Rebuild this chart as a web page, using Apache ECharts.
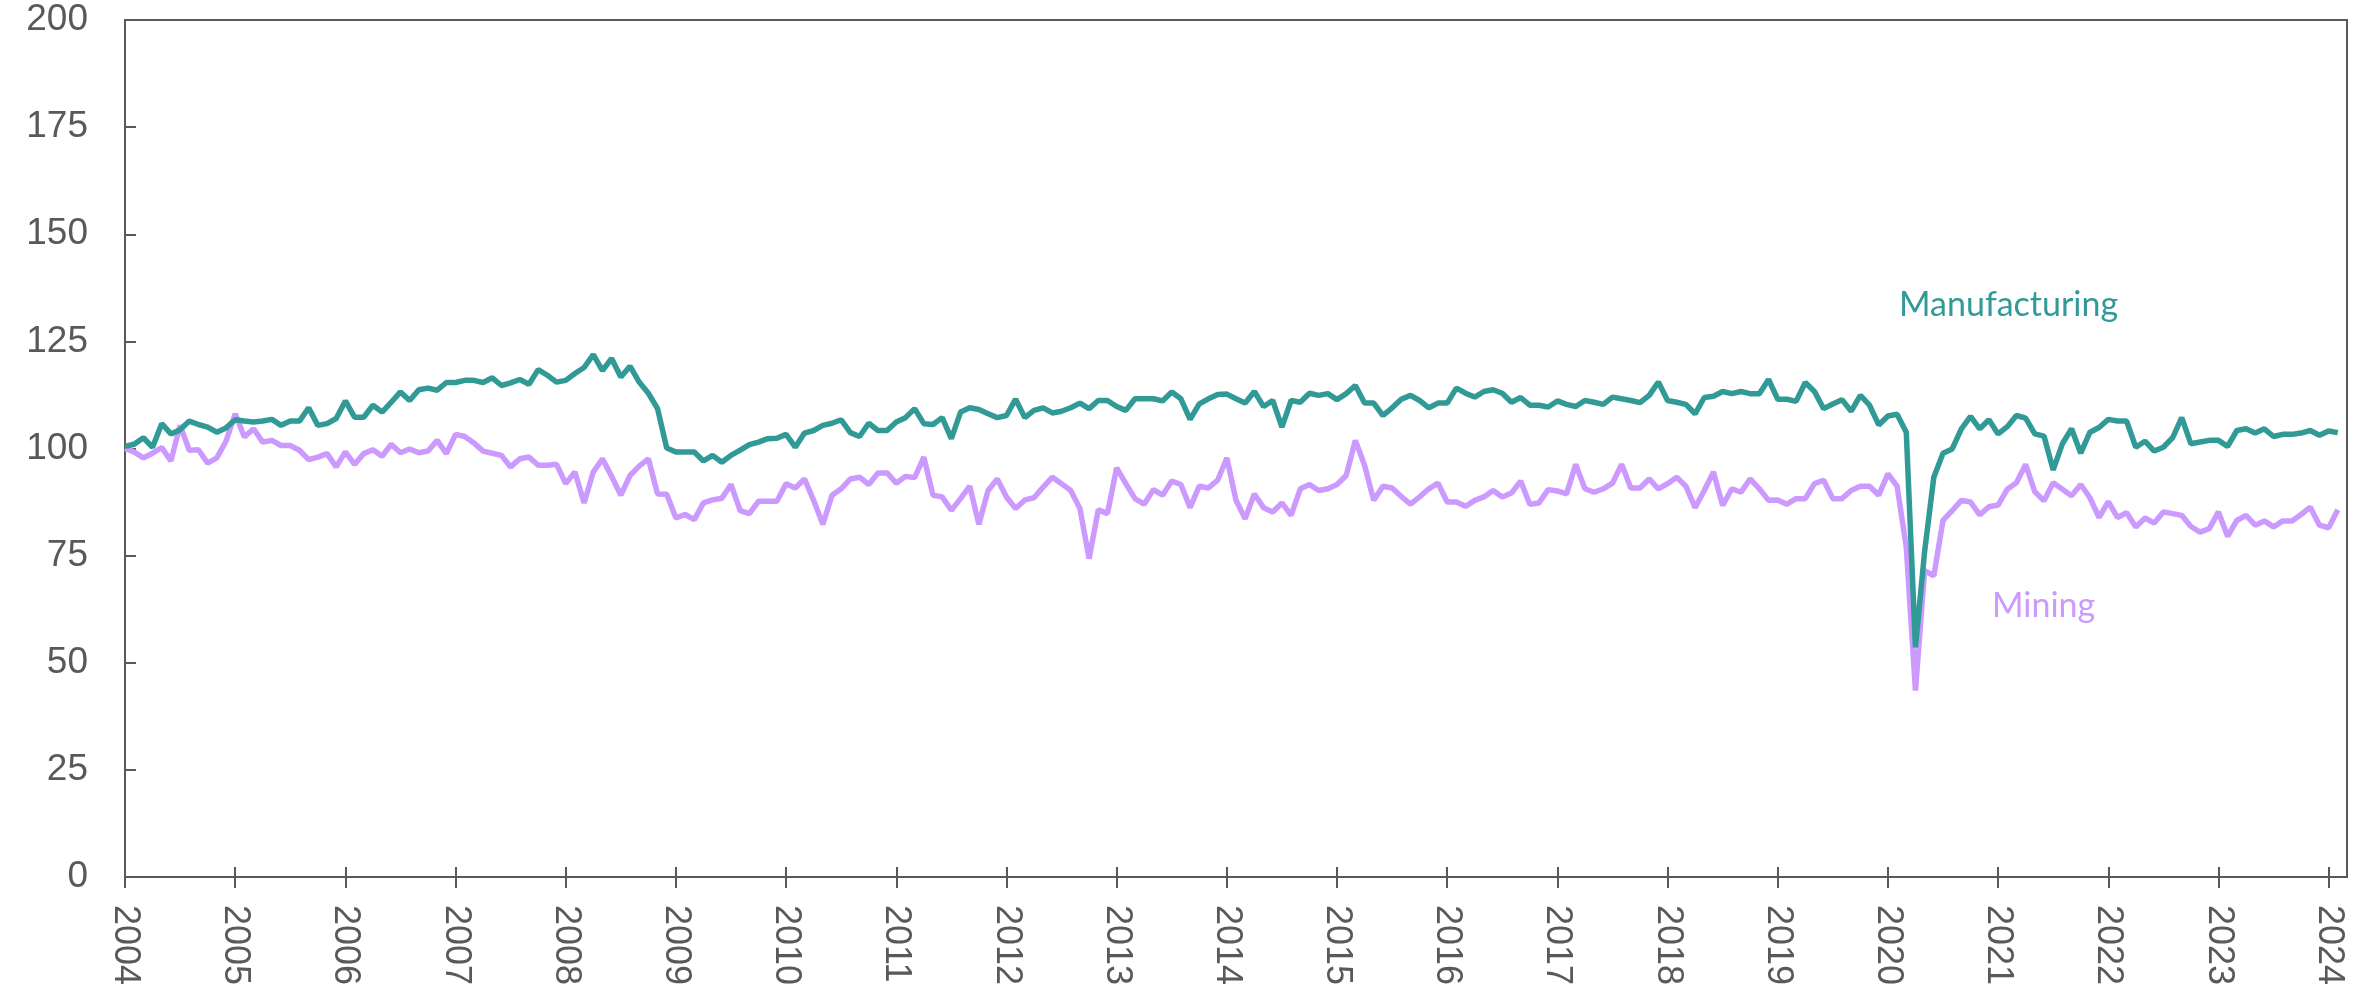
<!DOCTYPE html>
<html>
<head>
<meta charset="utf-8">
<title>Manufacturing and Mining</title>
<script src="https://cdn.jsdelivr.net/npm/echarts@6/dist/echarts.min.js"></script>
<style>
body { margin: 0; background: #fff; }
#chart { width: 2376px; height: 989px; }
</style>
</head>
<body>
<div id="chart"></div>
<script>
// years shown on the x axis, data is monthly from 2004-01
var years = ['2004','2005','2006','2007','2008','2009','2010','2011','2012','2013','2014',
  '2015','2016','2017','2018','2019','2020','2021','2022','2023','2024']
var lastMonth = 3 // axis runs to 2024-03

var manufacturing = [
  100.5, 101, 102.5, 100.3, 105.8, 103.4, 104.4, 106.4, 105.6, 105,
  103.8, 104.8, 106.7, 106.4, 106.2, 106.4, 106.8, 105.4, 106.4, 106.4,
  109.5, 105.4, 105.8, 107, 111.1, 107.3, 107.3, 110.1, 108.5, 110.8,
  113.2, 111.2, 113.7, 114.1, 113.6, 115.4, 115.4, 115.9, 115.9, 115.4,
  116.5, 114.7, 115.3, 116.1, 115, 118.4, 117.1, 115.5, 115.9, 117.5,
  118.9, 121.9, 118.2, 121, 116.7, 119.2, 115.5, 112.9, 109.3, 100.1,
  99.2, 99.2, 99.2, 97.1, 98.4, 96.8, 98.4, 99.6, 100.9, 101.5,
  102.3, 102.4, 103.3, 100.3, 103.6, 104.2, 105.4, 105.9, 106.7, 103.7,
  102.8, 105.9, 104.2, 104.2, 106.2, 107.2, 109.3, 105.8, 105.6, 107.2,
  102.3, 108.5, 109.5, 109.1, 108.1, 107.2, 107.7, 111.5, 107.2, 108.9,
  109.5, 108.3, 108.7, 109.5, 110.6, 109.3, 111.2, 111.2, 109.8, 108.9,
  111.6, 111.6, 111.6, 111.1, 113.2, 111.6, 106.8, 110.4, 111.6, 112.6,
  112.7, 111.6, 110.6, 113.3, 109.8, 111.2, 105, 111.2, 110.8, 112.9,
  112.4, 112.8, 111.4, 112.8, 114.7, 110.6, 110.6, 107.7, 109.5, 111.5,
  112.4, 111.2, 109.5, 110.6, 110.6, 114.1, 112.9, 112, 113.3, 113.7,
  112.9, 110.8, 111.9, 110.1, 110.1, 109.7, 111.1, 110.3, 109.8, 111.2,
  110.8, 110.3, 112, 111.6, 111.2, 110.7, 112.4, 115.5, 111.2, 110.8,
  110.3, 108.1, 111.9, 112.2, 113.3, 112.8, 113.3, 112.8, 112.8, 116.1,
  111.5, 111.5, 111, 115.4, 113.3, 109.3, 110.4, 111.4, 108.7, 112.4,
  110.1, 105.5, 107.6, 108, 103.8, 53.6, 76, 93.3, 98.9, 99.9,
  104.6, 107.5, 104.6, 106.7, 103.4, 105.1, 107.7, 107.1, 103.4, 102.9,
  95, 101.1, 104.6, 98.9, 103.8, 104.9, 106.8, 106.4, 106.4, 100.3,
  101.7, 99.4, 100.3, 102.5, 107.2, 101.1, 101.5, 101.9, 101.9, 100.5,
  104.2, 104.6, 103.6, 104.6, 102.8, 103.3, 103.3, 103.6, 104.2, 103.1,
  104.1, 103.7
]

var mining = [
  100, 99.2, 97.8, 98.9, 100.2, 97.1, 105.4, 99.6, 99.7, 96.6,
  97.8, 101.7, 108.1, 102.7, 104.6, 101.5, 101.9, 100.7, 100.7, 99.6,
  97.4, 98, 98.8, 95.7, 99.2, 96.3, 98.8, 99.7, 98.2, 101,
  99, 99.9, 99, 99.4, 101.9, 98.8, 103.3, 102.8, 101.3, 99.4,
  98.9, 98.4, 95.7, 97.6, 98, 96.1, 96.1, 96.3, 91.8, 94.5,
  87.3, 94.5, 97.6, 93.5, 89.1, 93.7, 95.9, 97.6, 89.4, 89.3,
  83.8, 84.6, 83.4, 87.3, 88, 88.4, 91.6, 85.5, 84.8, 87.7,
  87.7, 87.7, 91.8, 90.8, 92.9, 87.9, 82.3, 89.1, 90.6, 92.9,
  93.3, 91.6, 94.3, 94.3, 91.9, 93.5, 93.2, 98, 89.1, 88.7,
  85.6, 88.3, 91.2, 82.3, 90.2, 92.9, 88.7, 86, 88, 88.5,
  91, 93.3, 91.8, 90.2, 86, 74.3, 85.7, 84.8, 95.5, 91.8,
  88.3, 87, 90.4, 89.1, 92.4, 91.6, 86.2, 91.2, 90.8, 92.6,
  97.8, 87.9, 83.6, 89.4, 86.2, 85.2, 87.3, 84.4, 90.6, 91.6,
  90.2, 90.6, 91.6, 93.7, 101.9, 96.1, 87.9, 91.2, 90.8, 88.8,
  87, 88.7, 90.6, 91.9, 87.5, 87.5, 86.5, 87.9, 88.7, 90.2,
  88.7, 89.6, 92.4, 87, 87.3, 90.4, 90.1, 89.4, 96.3, 90.6,
  89.8, 90.6, 91.9, 96.3, 90.8, 90.8, 92.9, 90.6, 91.8, 93.3,
  91.2, 86.2, 90.2, 94.5, 86.7, 90.6, 89.8, 92.9, 90.6, 87.9,
  88, 87, 88.3, 88.3, 91.8, 92.6, 88.3, 88.3, 90.2, 91.2,
  91.2, 89.1, 94.1, 91.2, 77, 43.5, 71.5, 70.3, 83.2, 85.5,
  87.9, 87.5, 84.5, 86.4, 86.8, 90.5, 92, 96.3, 89.9, 87.8,
  92, 90.5, 89, 91.6, 88.5, 83.9, 87.6, 83.9, 85, 81.7,
  83.8, 82.6, 85.2, 84.8, 84.4, 81.8, 80.5, 81.3, 85.2, 79.5,
  83.2, 84.4, 82.1, 83.1, 81.7, 83.1, 83.1, 84.6, 86.3, 82.1,
  81.5, 85.7
]

var yTicks = [0, 25, 50, 75, 100, 125, 150, 175, 200]

// month categories built from the years list
var months = []
years.forEach(function (y, k) {
  var n = k === years.length - 1 ? lastMonth : 12
  for (var m = 1; m <= n; m++) {
    months.push(y + '-' + (m < 10 ? '0' + m : m))
  }
})

var axisColor = '#595959'
var isJan = function (index) { return index % 12 === 0 }

var chart = echarts.init(document.getElementById('chart'))
chart.setOption({
  animation: false,
  grid: {
    left: 125, right: 29, top: 20, bottom: 112,
    show: true, borderColor: axisColor, borderWidth: 2
  },
  xAxis: [
    {
      type: 'category',
      data: months,
      boundaryGap: false,
      axisLine: { lineStyle: { color: axisColor, width: 2 } },
      axisTick: { interval: isJan, length: 11, lineStyle: { color: axisColor, width: 2 } },
      axisLabel: {
        interval: isJan,
        rotate: -90,
        margin: 28,
        color: axisColor,
        fontSize: 36,
        fontFamily: 'Liberation Sans',
        formatter: function (v) { return v.slice(0, 4) }
      },
      splitLine: { show: false }
    },
    {
      // second axis only to draw the inner half of the crossing ticks
      type: 'category',
      data: months,
      boundaryGap: false,
      position: 'bottom',
      axisLine: { show: false },
      axisTick: { inside: true, interval: isJan, length: 10, lineStyle: { color: axisColor, width: 2 } },
      axisLabel: { show: false },
      splitLine: { show: false }
    }
  ],
  yAxis: {
    type: 'value',
    min: yTicks[0],
    max: yTicks[yTicks.length - 1],
    interval: yTicks[1] - yTicks[0],
    axisLine: { show: true, lineStyle: { color: axisColor, width: 2 } },
    axisTick: { show: true, inside: true, length: 11, lineStyle: { color: axisColor, width: 2 } },
    axisLabel: { margin: 37, color: axisColor, fontSize: 37, fontFamily: 'Liberation Sans' },
    splitLine: { show: false }
  },
  series: [
    {
      name: 'Mining',
      type: 'line',
      data: mining,
      showSymbol: false,
      lineStyle: { color: '#CC99FF', width: 5.5 },
      itemStyle: { color: '#CC99FF' }
    },
    {
      name: 'Manufacturing',
      type: 'line',
      data: manufacturing,
      showSymbol: false,
      lineStyle: { color: '#319A96', width: 5.5 },
      itemStyle: { color: '#319A96' }
    }
  ],
  graphic: [
    {
      type: 'text', x: 1899, y: 305,
      style: { text: 'Manufacturing', fill: '#319A96', fontSize: 34, fontFamily: 'Lato', verticalAlign: 'middle' }
    },
    {
      type: 'text', x: 1992, y: 606,
      style: { text: 'Mining', fill: '#CC99FF', fontSize: 34, fontFamily: 'Lato', verticalAlign: 'middle' }
    }
  ]
})
</script>
</body>
</html>
